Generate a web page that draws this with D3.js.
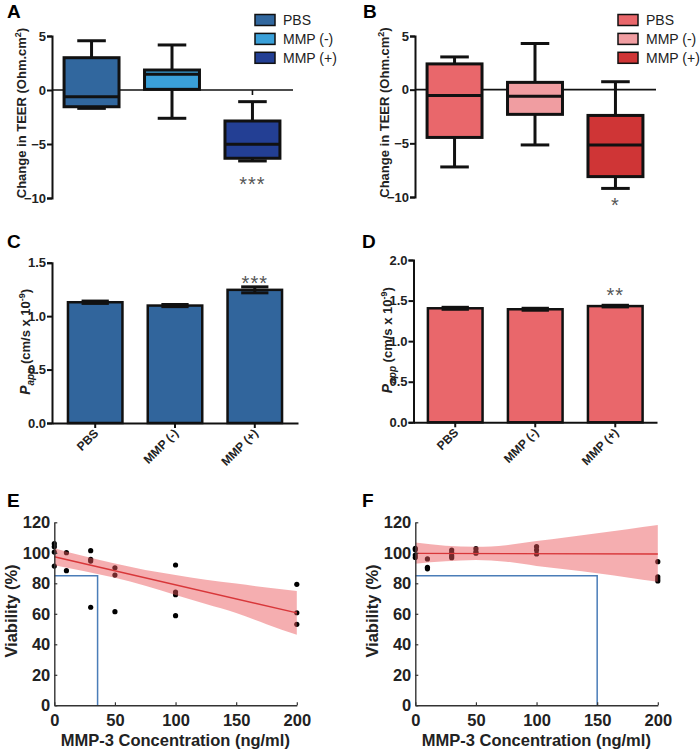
<!DOCTYPE html>
<html><head><meta charset="utf-8">
<script src="https://cdn.jsdelivr.net/npm/d3@7"></script>
<style>
body{margin:0;background:#fff;}
text{font-family:"Liberation Sans",Arial,sans-serif;}
</style></head>
<body>
<svg id="chart" width="700" height="752"></svg>
<script>
// ---------- DATA ----------
const categories = ["PBS", "MMP (-)", "MMP (+)"];

// Panel A (TEER change, blue)
const teerA_whiskerHigh = [4.56, 4.17, -1.08];
const teerA_q3          = [2.99, 1.85, -2.87];
const teerA_median      = [-0.62, 1.45, -5.03];
const teerA_q1          = [-1.55, 0.06, -6.32];
const teerA_whiskerLow  = [-1.70, -2.62, -6.57];
const teerA_sig         = ["", "", "***"];

// Panel B (TEER change, red)
const teerB_whiskerHigh = [3.05, 4.30, 0.74];
const teerB_q3          = [2.40, 0.68, -2.40];
const teerB_median      = [-0.55, -0.62, -5.15];
const teerB_q1          = [-4.45, -2.30, -8.10];
const teerB_whiskerLow  = [-7.20, -5.15, -9.20];
const teerB_sig         = ["", "", "*"];

const teerTicks = [5, 0, -5, -10];

// Panel C (Papp, blue)
const pappC_mean = [1.130, 1.099, 1.246];
const pappC_sem  = [0.011, 0.010, 0.028];
const pappC_sig  = ["", "", "***"];
const pappC_ticks = [0, 0.5, 1.0, 1.5];

// Panel D (Papp, red)
const pappD_mean = [1.405, 1.393, 1.432];
const pappD_sem  = [0.012, 0.012, 0.010];
const pappD_sig  = ["", "", "**"];
const pappD_ticks = [0, 0.5, 1.0, 1.5, 2.0];

// Panel E (viability)
const vE_conc = [0,0,0,0,10,10,30,30,30,30,50,50,50,100,100,100,100,200,200,200];
const vE_via  = [106,104,100.5,91.3,100.1,88.3,101.4,95.7,94.6,64.3,90.2,85.4,61.4,92,74.3,72.5,58.8,79.3,60.7,53.1];
const vE_fitX = [0, 200];
const vE_fitY = [97.4, 60.6];
const vE_bandX  = [0, 25, 50, 75, 100, 125, 150, 175, 200];
const vE_bandHi = [103.0, 97.7, 93.0, 88.8, 85.5, 82.4, 79.8, 77.3, 75.0];
const vE_bandLo = [91.9, 87.9, 83.6, 78.4, 72.3, 66.4, 60.5, 53.2, 46.2];
const vE_threshold = 85;
const vE_cutoff = 35.7;

// Panel F (viability)
const vF_conc = [0,0,0,0,10,10,10,30,30,30,30,50,50,50,100,100,100,200,200,200,200];
const vF_via  = [103,102,98.5,97,96,90.5,89.5,101.8,100.1,98.1,96.8,102.7,100.7,99.7,104,101.8,99.2,94.2,84.3,82.8,81.5];
const vF_fitX = [0, 200];
const vF_fitY = [99.6, 99.2];
const vF_bandX  = [0, 25, 50, 75, 100, 125, 150, 175, 200];
const vF_bandHi = [106.7, 104.6, 103.9, 105.0, 107.7, 110.2, 112.8, 115.5, 118.2];
const vF_bandLo = [92.9, 94.4, 95.2, 94.2, 91.4, 89.0, 86.6, 83.8, 81.0];
const vF_threshold = 85;
const vF_cutoff = 150;

const viaXTicks = [0, 50, 100, 150, 200];
const viaYTicks = [0, 20, 40, 60, 80, 100, 120];

const blueColors = ["#31679e", "#3aa0d9", "#233f94"];
const redColors  = ["#e9676b", "#f09da1", "#cf3536"];

// ---------- DRAW ----------
const svg = d3.select("#chart");

function panelLetter(t, x, y) {
  svg.append("text").attr("x", x).attr("y", y).attr("font-size", 19)
    .attr("font-weight", "bold").text(t);
}

function boxPanel(o) {
  const g = svg.append("g");
  const y = d3.scaleLinear().domain([-10, 5]).range([o.y0, o.y1]);
  const x = d3.scaleBand().domain(categories).range([o.ax, o.ax + 240])
    .paddingInner(0.317).paddingOuter(0.15);
  g.append("line").attr("x1", o.ax).attr("x2", o.ax + 241)
    .attr("y1", y(0)).attr("y2", y(0)).attr("stroke", "#111").attr("stroke-width", 1.6);
  categories.forEach(c => {
    g.append("line").attr("x1", x(c) + x.bandwidth()/2).attr("x2", x(c) + x.bandwidth()/2)
      .attr("y1", y(0)).attr("y2", y(0) + 5).attr("stroke", "#111").attr("stroke-width", 1.6);
  });
  const ax = d3.axisLeft(y).tickValues(teerTicks).tickSize(5).tickPadding(1).tickFormat(d3.format("d"));
  const ag = g.append("g").attr("transform", `translate(${o.ax},0)`).call(ax);
  ag.select(".domain").attr("stroke", "#111").attr("stroke-width", 2);
  ag.selectAll(".tick line").attr("stroke", "#111").attr("stroke-width", 2);
  ag.selectAll(".tick text").attr("font-size", 13).attr("font-weight", "bold")
    .attr("fill", "#222").style("font-family", "Liberation Sans, Arial, sans-serif");
  categories.forEach((c, i) => {
    const cx = x(c) + x.bandwidth()/2, bw = x.bandwidth(), cap = bw * 0.52;
    const ln = (x1, y1, x2, y2) => g.append("line").attr("x1", x1).attr("y1", y1)
      .attr("x2", x2).attr("y2", y2).attr("stroke", "#111").attr("stroke-width", 3);
    ln(cx, y(o.wh[i]), cx, y(o.q3[i]));
    ln(cx, y(o.q1[i]), cx, y(o.wl[i]));
    ln(cx - cap/2, y(o.wh[i]), cx + cap/2, y(o.wh[i]));
    ln(cx - cap/2, y(o.wl[i]), cx + cap/2, y(o.wl[i]));
    g.append("rect").attr("x", x(c)).attr("y", y(o.q3[i])).attr("width", bw)
      .attr("height", y(o.q1[i]) - y(o.q3[i])).attr("fill", o.colors[i])
      .attr("stroke", "#111").attr("stroke-width", 3);
    ln(x(c), y(o.med[i]), x(c) + bw, y(o.med[i]));
    if (o.sig[i]) {
      g.append("text").attr("x", cx).attr("y", o.sigY).attr("text-anchor", "middle")
        .attr("font-size", 20).attr("fill", "#555").attr("letter-spacing", 1).text(o.sig[i]);
    }
  });
  const t = g.append("text").attr("transform", `translate(${o.ax - 26},${(o.y0 + o.y1)/2 - 4}) rotate(-90)`)
    .attr("text-anchor", "middle").attr("font-size", 13).attr("font-weight", "bold").attr("fill", "#222");
  t.append("tspan").text("Change in TEER (Ohm.cm");
  t.append("tspan").attr("font-size", 9).attr("dy", -5).text("2");
  t.append("tspan").attr("dy", 5).text(")");
  categories.forEach((c, i) => {
    const ly = 20 + i * 18.9;
    g.append("rect").attr("x", o.lx).attr("y", ly - 5.5).attr("width", 20).attr("height", 11)
      .attr("fill", o.colors[i]).attr("stroke", "#111").attr("stroke-width", 1.5);
    g.append("text").attr("x", o.lx + 28).attr("y", ly + 5).attr("font-size", 14)
      .attr("fill", "#222").text(c);
  });
}

function barPanel(o) {
  const g = svg.append("g");
  const y = d3.scaleLinear().domain([0, o.ymax]).range([o.y0, o.y1]);
  const x = d3.scaleBand().domain(categories).range([o.ax, o.ax + o.w])
    .paddingInner(0.317).paddingOuter(o.po);
  categories.forEach((c, i) => {
    const cx = x(c) + x.bandwidth()/2;
    g.append("rect").attr("x", x(c)).attr("y", y(o.mean[i])).attr("width", x.bandwidth())
      .attr("height", y(0) - y(o.mean[i])).attr("fill", o.color)
      .attr("stroke", "#111").attr("stroke-width", 2.5);
    const cap = x.bandwidth() * 0.5;
    const hi = y(o.mean[i] + o.sem[i]), lo = y(o.mean[i] - o.sem[i]);
    g.append("line").attr("x1", cx).attr("x2", cx).attr("y1", hi).attr("y2", lo)
      .attr("stroke", "#111").attr("stroke-width", 3);
    [hi, lo].forEach(yy => g.append("line").attr("x1", cx - cap/2).attr("x2", cx + cap/2)
      .attr("y1", yy).attr("y2", yy).attr("stroke", "#111").attr("stroke-width", 3));
    if (o.sig[i]) {
      g.append("text").attr("x", cx).attr("y", o.sigY).attr("text-anchor", "middle")
        .attr("font-size", 20).attr("fill", "#555").attr("letter-spacing", 1).text(o.sig[i]);
    }
  });
  const ax = d3.axisLeft(y).tickValues(o.ticks).tickSize(5).tickPadding(1).tickFormat(d3.format(".1f"));
  const ag = g.append("g").attr("transform", `translate(${o.ax},0)`).call(ax);
  ag.select(".domain").attr("stroke", "#111").attr("stroke-width", 2);
  ag.selectAll(".tick line").attr("stroke", "#111").attr("stroke-width", 2);
  ag.selectAll(".tick text").attr("font-size", 13).attr("font-weight", "bold")
    .attr("fill", "#222").style("font-family", "Liberation Sans, Arial, sans-serif");
  const xa = d3.axisBottom(x).tickSize(5).tickSizeOuter(0).tickFormat("");
  const xg = g.append("g").attr("transform", `translate(0,${o.y0})`).call(xa);
  xg.select(".domain").attr("stroke", "#111").attr("stroke-width", 2);
  xg.selectAll(".tick line").attr("stroke", "#111").attr("stroke-width", 2);
  categories.forEach(c => {
    const cx = x(c) + x.bandwidth()/2;
    g.append("text").attr("transform", `translate(${cx + 4},${o.y0 + 11}) rotate(-45)`)
      .attr("text-anchor", "end").attr("font-size", 12).attr("font-weight", "bold")
      .attr("fill", "#222").text(c);
  });
  const t = g.append("text").attr("transform", `translate(${o.ax - 22},${(o.y0 + o.y1)/2 - 1}) rotate(-90)`)
    .attr("text-anchor", "middle").attr("font-size", 13).attr("font-weight", "bold").attr("fill", "#222");
  t.append("tspan").attr("font-style", "italic").attr("font-size", 14).text("P");
  t.append("tspan").attr("font-style", "italic").attr("font-size", 10).attr("dy", 4).text("app");
  t.append("tspan").attr("dy", -4).text(" (cm/s x 10");
  t.append("tspan").attr("font-size", 9).attr("dy", -5).text("-9");
  t.append("tspan").attr("dy", 5).text(")");
}

function viaPanel(o) {
  const g = svg.append("g");
  const x = d3.scaleLinear().domain([0, 200]).range([o.ax, o.ax + 242.5]);
  const y = d3.scaleLinear().domain([0, 120]).range([705.3, 522.3]);
  o.conc.forEach((c, i) => {
    g.append("circle").attr("cx", x(c)).attr("cy", y(o.via[i])).attr("r", 2.6).attr("fill", "#000");
  });
  const area = d3.area().x((d, i) => x(d)).y0((d, i) => y(o.lo[i])).y1((d, i) => y(o.hi[i]))
    .curve(d3.curveMonotoneX);
  g.append("path").attr("d", area(o.bx)).attr("fill", "rgb(235,85,90)").attr("fill-opacity", 0.48);
  const line = d3.line().x((d) => x(d)).y((d, i) => y(o.fy[i]));
  g.append("path").attr("d", line(o.fx)).attr("stroke", "#d8373a").attr("stroke-width", 1.4).attr("fill", "none");
  const th = d3.line().x(d => x(d[0])).y(d => y(d[1]));
  g.append("path").attr("d", th([[0, o.thr], [o.cut, o.thr], [o.cut, 0]]))
    .attr("stroke", "#4a7db8").attr("stroke-width", 1.5).attr("fill", "none");
  const ya = d3.axisLeft(y).tickValues(viaYTicks).tickSize(-3).tickSizeOuter(0).tickPadding(4);
  const yg = g.append("g").attr("transform", `translate(${o.ax},0)`).call(ya);
  const xa = d3.axisBottom(x).tickValues(viaXTicks).tickSize(-3).tickSizeOuter(0).tickPadding(6);
  const xg = g.append("g").attr("transform", `translate(0,${y(0)})`).call(xa);
  [yg, xg].forEach(a => {
    a.select(".domain").attr("stroke", "#333").attr("stroke-width", 1.4);
    a.selectAll(".tick line").attr("stroke", "#333").attr("stroke-width", 1.2);
    a.selectAll(".tick text").attr("font-size", 16.5).attr("font-weight", "bold")
      .attr("fill", "#222").style("font-family", "Liberation Sans, Arial, sans-serif");
  });
  xg.selectAll(".tick text").attr("dy", "0.9em");
  g.append("text").attr("x", o.ax + 121).attr("y", 746).attr("text-anchor", "middle")
    .attr("font-size", 16.5).attr("font-weight", "bold").attr("fill", "#222")
    .text("MMP-3 Concentration (ng/ml)");
  g.append("text").attr("transform", `translate(${o.ax - 37},${611}) rotate(-90)`)
    .attr("text-anchor", "middle").attr("font-size", 16.5).attr("font-weight", "bold")
    .attr("fill", "#222").text("Viability (%)");
}

panelLetter("A", 7, 18);
panelLetter("B", 363, 18);
panelLetter("C", 7, 248);
panelLetter("D", 362, 248);
panelLetter("E", 7, 507);
panelLetter("F", 362, 507);

boxPanel({ax: 52, y0: 198, y1: 36, wh: teerA_whiskerHigh, q3: teerA_q3, med: teerA_median,
  q1: teerA_q1, wl: teerA_whiskerLow, sig: teerA_sig, sigY: 191, colors: blueColors, lx: 255});
boxPanel({ax: 415, y0: 197, y1: 36, wh: teerB_whiskerHigh, q3: teerB_q3, med: teerB_median,
  q1: teerB_q1, wl: teerB_whiskerLow, sig: teerB_sig, sigY: 212, colors: redColors, lx: 618});

barPanel({ax: 52, w: 246, po: 0.2, y0: 423, y1: 262.7, ymax: 1.5, mean: pappC_mean, sem: pappC_sem,
  sig: pappC_sig, sigY: 290, ticks: pappC_ticks, color: "#31659c"});
barPanel({ax: 413.5, w: 243.5, po: 0.18, y0: 422.3, y1: 260, ymax: 2.0, mean: pappD_mean, sem: pappD_sem,
  sig: pappD_sig, sigY: 302, ticks: pappD_ticks, color: "#e9676b"});

viaPanel({ax: 54.3, conc: vE_conc, via: vE_via, fx: vE_fitX, fy: vE_fitY, bx: vE_bandX,
  hi: vE_bandHi, lo: vE_bandLo, thr: vE_threshold, cut: vE_cutoff});
viaPanel({ax: 415.3, conc: vF_conc, via: vF_via, fx: vF_fitX, fy: vF_fitY, bx: vF_bandX,
  hi: vF_bandHi, lo: vF_bandLo, thr: vF_threshold, cut: vF_cutoff});
</script>
</body></html>
